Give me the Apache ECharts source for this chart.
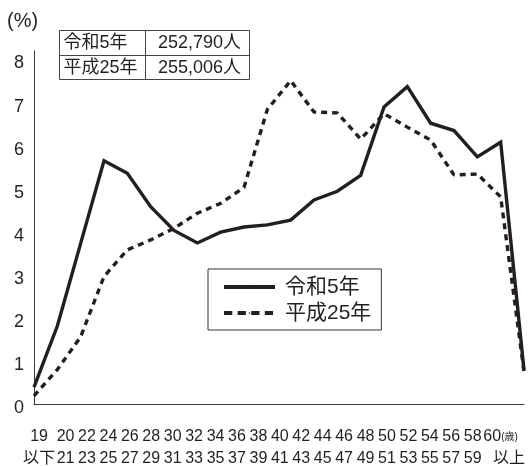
<!DOCTYPE html>
<html>
<head>
<meta charset="utf-8">
<script src="https://cdn.jsdelivr.net/npm/echarts@6/dist/echarts.min.js"></script>
<style>
  html, body { margin: 0; padding: 0; background: #fff; }
  #chart { width: 528px; height: 466px; }
</style>
</head>
<body>
<div id="chart"></div>
<script>
// Age groups: first year of each group (upper label row) and last year (lower row)
const ageFrom = ['19', '20', '22', '24', '26', '28', '30', '32', '34', '36', '38',
                 '40', '42', '44', '46', '48', '50', '52', '54', '56', '58', '60'];
const ageTo = ['以下', '21', '23', '25', '27', '29', '31', '33', '35', '37', '39',
               '41', '43', '45', '47', '49', '51', '53', '55', '57', '59', '以上'];

// Share of each age group (%)
const reiwa5 = [0.39, 1.81, 3.73, 5.65, 5.36, 4.58, 4.03, 3.74, 3.99, 4.11, 4.16,
                4.27, 4.74, 4.94, 5.31, 6.90, 7.37, 6.52, 6.35, 5.74, 6.08, 0.79];
const heisei25 = [0.19, 0.80, 1.56, 2.96, 3.58, 3.81, 4.08, 4.43, 4.66, 5.03, 6.84,
                  7.51, 6.78, 6.76, 6.15, 6.74, 6.43, 6.13, 5.32, 5.34, 4.81, 0.75];

const seriesNames = ['令和5年', '平成25年'];
const totals = ['252,790人', '255,006人'];

const yTicks = [0, 1, 2, 3, 4, 5, 6, 7, 8];

const INK = '#231f20';
const FONT = "'Liberation Sans', 'Noto Sans CJK JP', sans-serif";
const NARROW = "'Liberation Sans Narrow', 'Liberation Sans', 'Noto Sans CJK JP', sans-serif";

const groupKeys = ageFrom.map((a, i) => a + '-' + ageTo[i]);

const chart = echarts.init(document.getElementById('chart'), null, { renderer: 'canvas' });

const gridBox = { top: 50.9, bottom: 62, outerBoundsMode: 'none', containLabel: false };

chart.setOption({
  animation: false,
  backgroundColor: '#fff',
  textStyle: { fontFamily: FONT, color: INK },
  grid: [
    Object.assign({ left: 34, right: 4 }, gridBox),
    // label row grid (age labels are set slightly tighter than the plot)
    Object.assign({ left: 44.1, right: 33.9, show: false }, gridBox)
  ],
  xAxis: [
    {
      type: 'category',
      gridIndex: 0,
      data: groupKeys,
      boundaryGap: false,
      axisLine: { show: true, lineStyle: { color: '#3a3a3a', width: 1 } },
      axisTick: { show: false },
      axisLabel: { show: false },
      splitLine: { show: false }
    },
    {
      type: 'category',
      gridIndex: 1,
      data: groupKeys,
      boundaryGap: false,
      axisLine: { show: false },
      axisTick: { show: false },
      splitLine: { show: false },
      axisLabel: {
        interval: 0,
        margin: 22,
        fontFamily: NARROW,
        fontSize: 16,
        lineHeight: 22,
        color: INK,
        formatter: function (value, index) {
          if (index === 0) {
            return '{first|' + ageFrom[0] + '}\n{first|' + ageTo[0] + '}';
          }
          if (index === ageFrom.length - 1) {
            return '{num|' + ageFrom[index] + '}{unit|(歳)}\n{over|' + ageTo[index] + '}';
          }
          return ageFrom[index] + '\n' + ageTo[index];
        },
        rich: {
          first: { fontFamily: NARROW, fontSize: 16, lineHeight: 22, color: INK, padding: [0, 10, 0, 0] },
          num: { fontFamily: NARROW, fontSize: 16, lineHeight: 22, color: INK, padding: [0, 0, 0, 13] },
          unit: { fontFamily: NARROW, fontSize: 10, lineHeight: 22, color: INK },
          over: { fontFamily: NARROW, fontSize: 16, lineHeight: 22, color: INK, padding: [0, 0, 0, 30] }
        }
      }
    }
  ],
  yAxis: [
    {
      type: 'value',
      gridIndex: 0,
      min: yTicks[0],
      max: 8.2,
      interval: 1,
      axisLine: { show: true, lineStyle: { color: '#3a3a3a', width: 1 } },
      axisTick: { show: false },
      splitLine: { show: false },
      axisLabel: {
        fontSize: 18,
        color: INK,
        margin: 10,
        verticalAlign: 'top',
        lineHeight: 8,
        formatter: function (v) {
          return yTicks.indexOf(v) >= 0 ? String(v) : '';
        }
      }
    },
    { type: 'value', gridIndex: 1, show: false }
  ],
  legend: {
    left: 208,
    top: 269,
    orient: 'vertical',
    data: [
      { name: seriesNames[0], lineStyle: { type: 'solid' } },
      { name: seriesNames[1], lineStyle: { type: [8.3, 5.3] } }
    ],
    itemWidth: 51,
    itemHeight: 2,
    itemGap: 4,
    padding: [7, 10, 6, 14],
    borderColor: '#333',
    borderWidth: 1,
    backgroundColor: '#fff',
    lineStyle: { width: 4 },
    textStyle: { fontSize: 21, lineHeight: 22, color: INK, fontFamily: FONT, padding: [0, 0, 0, 5] }
  },
  series: [
    {
      name: seriesNames[0],
      type: 'line',
      xAxisIndex: 0,
      yAxisIndex: 0,
      data: reiwa5,
      symbol: 'none',
      showSymbol: false,
      z: 3,
      lineStyle: { color: INK, width: 3.4, type: 'solid', join: 'miter' },
      itemStyle: { color: INK }
    },
    {
      name: seriesNames[1],
      type: 'line',
      xAxisIndex: 0,
      yAxisIndex: 0,
      data: heisei25,
      symbol: 'none',
      showSymbol: false,
      z: 2,
      lineStyle: { color: INK, width: 3.4, type: [6, 5] },
      itemStyle: { color: INK }
    }
  ],
  graphic: [
    {
      type: 'text',
      left: 7,
      top: 11,
      style: { text: '(%)', fontSize: 20, fontFamily: FONT, fill: INK }
    },
    {
      type: 'group',
      left: 57,
      top: 28,
      children: [
        { type: 'rect', shape: { x: 0, y: 0, width: 190, height: 49 },
          style: { fill: '#fff', stroke: '#444', lineWidth: 1 } },
        { type: 'line', shape: { x1: 0, y1: 25, x2: 190, y2: 25 },
          style: { stroke: '#444', lineWidth: 1 } },
        { type: 'line', shape: { x1: 86, y1: 0, x2: 86, y2: 49 },
          style: { stroke: '#444', lineWidth: 1 } },
        { type: 'text', x: 4, y: 12.5,
          style: { text: seriesNames[0], fontSize: 18, fontFamily: FONT, fill: INK, verticalAlign: 'middle' } },
        { type: 'text', x: 4, y: 37.5,
          style: { text: seriesNames[1], fontSize: 18, fontFamily: FONT, fill: INK, verticalAlign: 'middle' } },
        { type: 'text', x: 140, y: 12.5,
          style: { text: totals[0], fontSize: 18, fontFamily: FONT, fill: INK, align: 'center', verticalAlign: 'middle' } },
        { type: 'text', x: 140, y: 37.5,
          style: { text: totals[1], fontSize: 18, fontFamily: FONT, fill: INK, align: 'center', verticalAlign: 'middle' } }
      ]
    }
  ]
});
</script>
</body>
</html>
